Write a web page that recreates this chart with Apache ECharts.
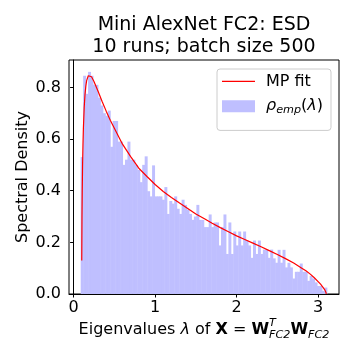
<!DOCTYPE html>
<html>
<head>
<meta charset="utf-8">
<script src="https://cdn.jsdelivr.net/npm/echarts@6/dist/echarts.min.js"></script>
<style>html,body{margin:0;padding:0;background:#fff}#c{width:360px;height:360px}</style>
</head>
<body>
<div id="c"></div>
<script>
// ---- data ----
const titleLines = ['Mini AlexNet FC2: ESD', '10 runs; batch size 500'];
const yAxisTitle = 'Spectral Density';
const xTicks = [0, 1, 2, 3];
const yTicks = [0, 0.2, 0.4, 0.6, 0.8];
const binStart = 0.087;
const binWidth = 0.0302;
const binHeights = [
  0.53, 0.845, 0.775, 0.86, 0.845, 0.81, 0.81, 0.76, 0.73, 0.70,
  0.69, 0.71, 0.57, 0.67, 0.67, 0.59, 0.59, 0.50, 0.52, 0.59,
  0.52, 0.52, 0.50, 0.48, 0.433, 0.50, 0.533, 0.398, 0.378, 0.498,
  0.378, 0.378, 0.378, 0.365, 0.414, 0.31, 0.36, 0.35, 0.378, 0.33,
  0.31, 0.365, 0.345, 0.327, 0.31, 0.287, 0.30, 0.345, 0.287, 0.287,
  0.259, 0.259, 0.308, 0.259, 0.277, 0.277, 0.188, 0.259, 0.308, 0.155,
  0.277, 0.155, 0.242, 0.188, 0.242, 0.188, 0.242, 0.207, 0.188, 0.14,
  0.207, 0.155, 0.207, 0.155, 0.172, 0.172, 0.14, 0.172, 0.138, 0.121,
  0.171, 0.121, 0.171, 0.103, 0.121, 0.103, 0.06, 0.086, 0.086, 0.118,
  0.086, 0.086, 0.051, 0.07, 0.06, 0.045, 0.031, 0.031, 0.012, 0.025
];
const mpX = [0.100,0.103,0.106,0.110,0.115,0.120,0.130,0.140,0.150,0.160,0.180,0.200,0.220,0.250,0.300,0.350,0.400,0.450,0.500,0.600,0.700,0.800,0.900,1.000,1.100,1.200,1.300,1.400,1.500,1.600,1.700,1.800,1.900,2.000,2.100,2.200,2.300,2.400,2.500,2.600,2.700,2.800,2.850,2.900,2.950,3.000,3.030,3.060,3.080,3.095,3.100];
const mpY = [0.13,0.30,0.398,0.495,0.579,0.640,0.722,0.773,0.805,0.826,0.845,0.847,0.841,0.823,0.785,0.745,0.708,0.673,0.642,0.58,0.532,0.487,0.455,0.424,0.397,0.374,0.352,0.331,0.31,0.292,0.274,0.257,0.241,0.225,0.211,0.197,0.183,0.168,0.153,0.137,0.12,0.100,0.090,0.078,0.064,0.048,0.038,0.026,0.017,0.007,0.0];

// ---- chart ----
const FF = "'DejaVu Sans'";
const chart = echarts.init(document.getElementById('c'), null, {renderer: 'canvas'});
const histData = binHeights.map((h, i) => [binStart + i * binWidth, binStart + (i + 1) * binWidth, h]);
const lineData = mpX.map((x, i) => [x, mpY[i]]);

// x-axis label layout (math text pieces)
const cv = document.createElement('canvas').getContext('2d');
function w(text, font) { cv.font = font; return cv.measureText(text).width; }
const F16 = '16px ' + FF, FI16 = 'italic 16px ' + FF, FB16 = 'bold 16px ' + FF, FS = 'italic 11.2px ' + FF;
const base = 335;
const pieces = [
  {t: 'Eigenvalues ', f: F16, s: 16},
  {t: 'λ', f: FI16, s: 16},
  {t: ' of ', f: F16, s: 16},
  {t: 'X', f: FB16, s: 16},
  {t: ' = ', f: F16, s: 16},
  {t: 'W', f: FB16, s: 16},
  {stack: [{t: 'T', f: FS, s: 11.2, dy: -7.5}, {t: 'FC2', f: FS, s: 11.2, dy: 4}]},
  {t: 'W', f: FB16, s: 16},
  {t: 'FC2', f: FS, s: 11.2, dy: 4}
];
let total = 0;
pieces.forEach(p => {
  if (p.stack) p.w = Math.max(...p.stack.map(q => w(q.t, q.f)));
  else p.w = w(p.t, p.f);
  total += p.w;
});
let cx = 204 - total / 2;
const xlabelEls = [];
function addText(t, f, s, x, dy) {
  xlabelEls.push({type: 'text', x: x, y: base + (dy || 0) - 0.35 * s, silent: true,
    style: {text: t, font: f, fill: '#000', align: 'left', verticalAlign: 'middle'}});
}
pieces.forEach(p => {
  if (p.stack) p.stack.forEach(q => addText(q.t, q.f, q.s, cx, q.dy));
  else addText(p.t, p.f, p.s, cx, p.dy);
  cx += p.w;
});

const lineIcon = 'path://M0,0L0.01,0L0.01,0.01Z M0,5.4L33,5.4L33,6.6L0,6.6Z M32.99,12L33,12L33,11.99Z';

const option = {
  animation: false,
  backgroundColor: '#fff',
  grid: {left: 69, top: 60, width: 270, height: 234, show: true, borderColor: '#000', borderWidth: 1, backgroundColor: 'transparent'},
  xAxis: {
    type: 'value', min: -0.0564, max: 3.256,
    axisLine: {show: true, onZero: false, lineStyle: {color: '#000', width: 1}},
    axisTick: {show: true, inside: false, length: 3.5, lineStyle: {color: '#000'}, customValues: xTicks},
    axisLabel: {show: true, margin: 6, color: '#000', fontSize: 16, fontFamily: FF, customValues: xTicks, formatter: v => String(v)},
    splitLine: {show: false}
  },
  yAxis: {
    type: 'value', min: 0, max: 0.906,
    axisLine: {show: true, lineStyle: {color: '#000', width: 1}},
    axisTick: {show: true, inside: false, length: 3.5, lineStyle: {color: '#000'}, customValues: yTicks},
    axisLabel: {show: true, margin: 8, color: '#000', fontSize: 16, fontFamily: FF, customValues: yTicks, formatter: v => v.toFixed(1)},
    splitLine: {show: false}
  },
  legend: {
    orient: 'vertical', left: 217, top: 69,
    data: [{name: 'MP fit', icon: lineIcon}, {name: 'rho', icon: 'rect'}],
    itemWidth: 33, itemHeight: 12, itemGap: 7.3,
    padding: [4.4, 8, 14.7, 5],
    backgroundColor: 'rgba(255,255,255,0.8)', borderColor: '#cccccc', borderWidth: 1, borderRadius: 3,
    textStyle: {
      color: '#000', fontSize: 16, fontFamily: FF, padding: [0, 0, 0, 6],
      rich: {
        n: {fontSize: 16, fontFamily: FF, color: '#000', lineHeight: 20},
        i: {fontSize: 16, fontFamily: FF, fontStyle: 'italic', color: '#000', lineHeight: 20},
        s: {fontSize: 11.2, fontFamily: FF, fontStyle: 'italic', color: '#000', lineHeight: 20, padding: [8, 0, 0, 0]}
      }
    },
    formatter: name => name === 'rho' ? '{i|ρ}{s|emp}{n|(}{i|λ}{n|)}' : '{n|' + name + '}'
  },
  series: [
    {
      name: 'rho', type: 'custom', z: 2,
      itemStyle: {color: '#bfbfff'},
      encode: {x: [0, 1], y: 2},
      data: histData,
      renderItem: (params, api) => {
        const p0 = api.coord([api.value(0), api.value(2)]);
        const p1 = api.coord([api.value(1), 0]);
        return {type: 'rect', shape: {x: p0[0], y: p0[1], width: p1[0] - p0[0] + 0.5, height: p1[1] - p0[1]},
          style: {fill: '#bfbfff'}};
      }
    },
    {
      name: 'MP fit', type: 'line', z: 3, symbol: 'none', smooth: false,
      lineStyle: {color: '#ff0000', width: 1.2}, itemStyle: {color: '#ff0000'},
      data: lineData
    }
  ],
  graphic: [
    {type: 'text', x: 204, y: 25, silent: true, style: {text: titleLines[0], font: '19px ' + FF, fill: '#000', align: 'center', verticalAlign: 'middle'}},
    {type: 'text', x: 204, y: 46.6, silent: true, style: {text: titleLines[1], font: '19px ' + FF, fill: '#000', align: 'center', verticalAlign: 'middle'}},
    {type: 'text', x: 22.8, y: 177, rotation: Math.PI / 2, silent: true, style: {text: yAxisTitle, font: '16px ' + FF, fill: '#000', align: 'center', verticalAlign: 'middle'}}
  ].concat(xlabelEls)
};
chart.setOption(option);
</script>
</body>
</html>
